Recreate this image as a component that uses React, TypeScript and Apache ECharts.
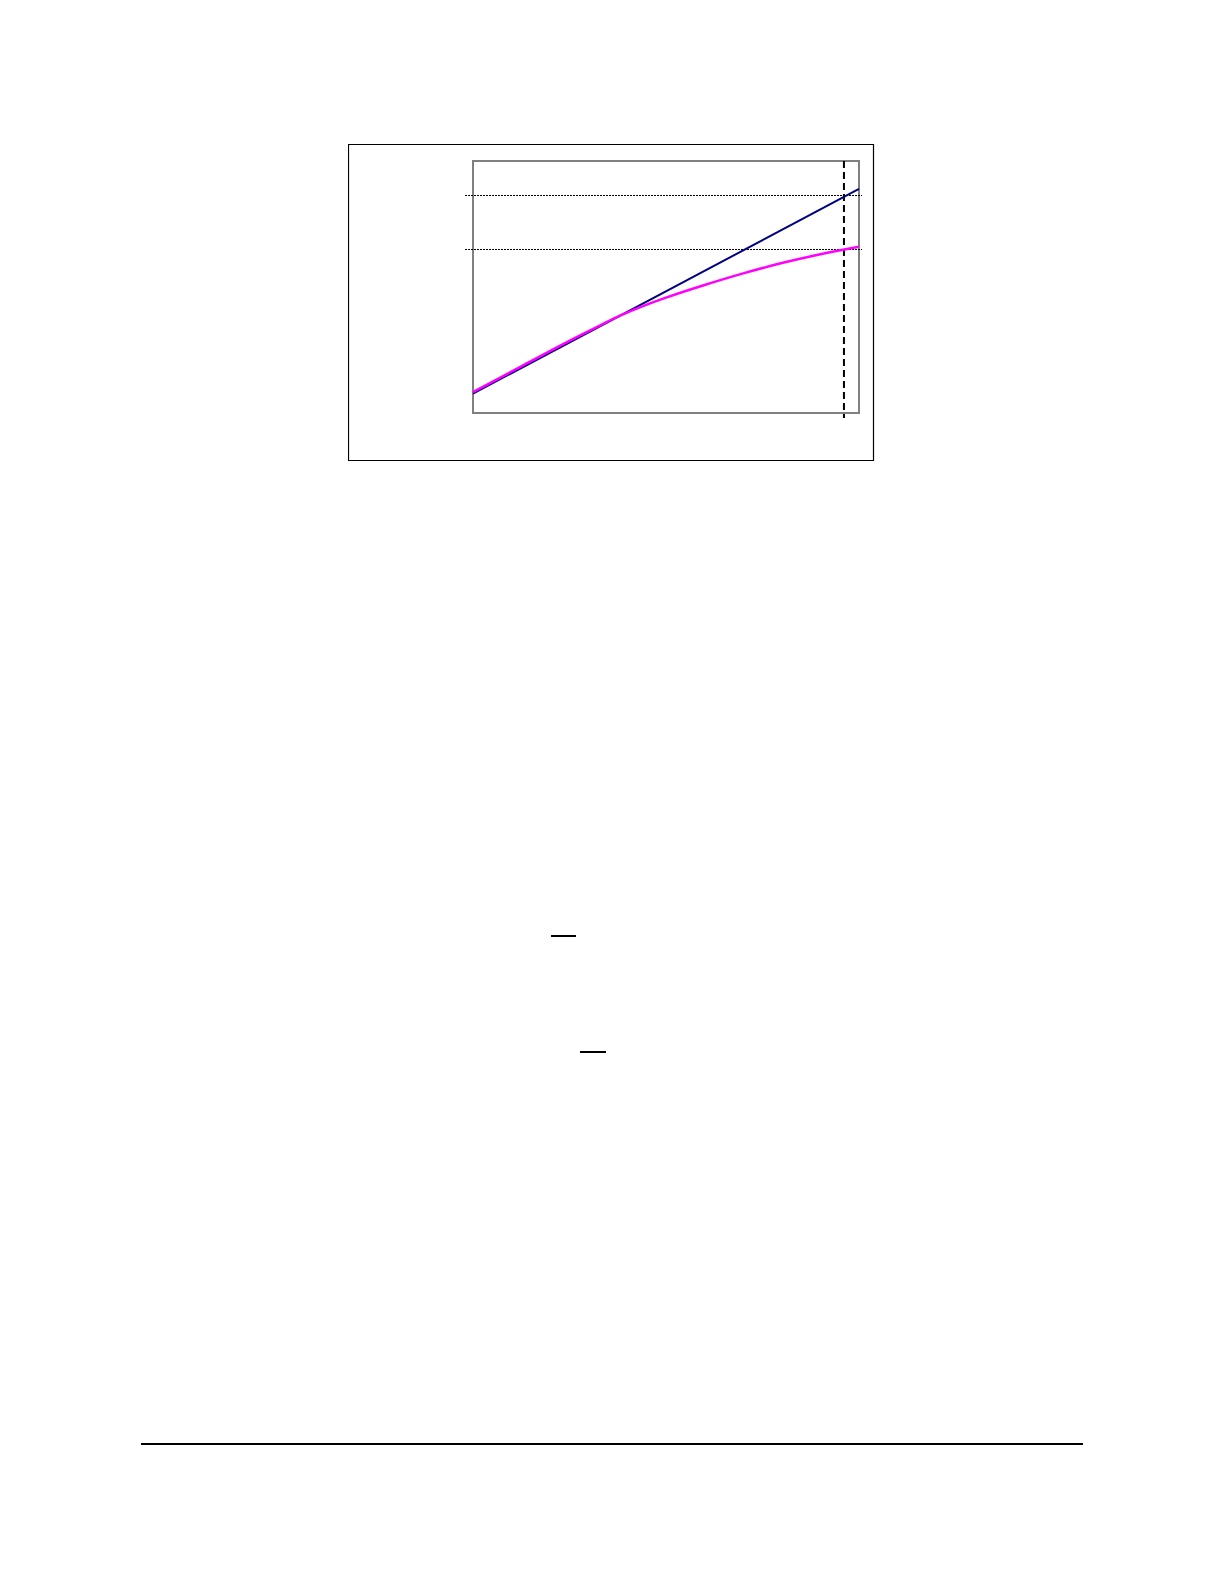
import React, { useEffect, useRef } from 'react';
import * as echarts from 'echarts';

// x positions and values (axis runs 0..10 both ways)
const linearX = [0, 10];
const linearY = [0.77, 8.89];

const curveX = [0, 1.3, 2.51, 3.3, 3.81, 4.4, 5, 6, 7, 8, 9, 10];
const curveY = [0.83, 1.89, 2.87, 3.48, 3.86, 4.24, 4.58, 5.08, 5.54, 5.95, 6.3, 6.6];

// dotted horizontal reference levels and the dashed vertical marker
const refLevels = [8.65, 6.51];
const markerX = 9.61;

const pairs = (xs: number[], ys: number[]) => xs.map((x, i) => [x, ys[i]]);

function Figure() {
  const chartRef = useRef<HTMLDivElement>(null);

  useEffect(() => {
    const chart = echarts.init(chartRef.current!, undefined, { renderer: 'svg' });

    const option = {
      animation: false,
      grid: {
        left: 125,
        top: 17,
        width: 386,
        height: 252,
        show: true,
        borderColor: '#808080',
        borderWidth: 2,
        backgroundColor: 'transparent',
      },
      xAxis: { type: 'value', min: 0, max: 10, show: false },
      yAxis: { type: 'value', min: 0, max: 10, show: false },
      series: [
        {
          type: 'line',
          data: pairs(linearX, linearY),
          symbol: 'none',
          lineStyle: { color: '#000080', width: 2 },
        },
        {
          type: 'line',
          data: pairs(curveX, curveY),
          symbol: 'none',
          smooth: 0.4,
          lineStyle: { color: '#ff00ff', width: 2.5 },
        },
      ],
    };
    chart.setOption(option);

    // reference lines reach a little past the plot box, so place them from the scales
    const [gx0, gyBottom] = chart.convertToPixel({ gridIndex: 0 }, [0, 0]) as number[];
    const [gx1, gyTop] = chart.convertToPixel({ gridIndex: 0 }, [10, 10]) as number[];
    const [mx] = chart.convertToPixel({ gridIndex: 0 }, [markerX, 0]) as number[];

    const graphic: any[] = [
      {
        type: 'rect',
        shape: { x: 0.5, y: 0.5, width: 525, height: 316 },
        style: { fill: 'none', stroke: '#000', lineWidth: 1.2 },
        silent: true,
      },
      ...refLevels.map((lv) => {
        const [, py] = chart.convertToPixel({ gridIndex: 0 }, [0, lv]) as number[];
        const y = Math.round(py) + 0.5;
        return {
          type: 'line',
          shape: { x1: gx0 - 8, y1: y, x2: gx1 + 3, y2: y },
          style: { stroke: '#000', lineWidth: 1, lineDash: [2, 1] },
          silent: true,
        };
      }),
      {
        type: 'line',
        shape: { x1: mx, y1: gyTop, x2: mx, y2: gyBottom + 5 },
        style: { stroke: '#000', lineWidth: 2, lineDash: [7, 4] },
        silent: true,
      },
    ];
    chart.setOption({ graphic });

    return () => {
      chart.dispose();
    };
  }, []);

  return (
    <div
      ref={chartRef}
      style={{ position: 'absolute', left: 348, top: 144, width: 527, height: 318 }}
    />
  );
}

export default function App() {
  return (
    <div style={{ position: 'absolute', left: 0, top: 0, width: 1224, height: 1584, background: '#fff' }}>
      <Figure />
      {/* fraction bars and footer rule of the page */}
      <div style={{ position: 'absolute', left: 551, top: 935, width: 25, height: 1.5, background: '#000' }} />
      <div style={{ position: 'absolute', left: 580, top: 1051, width: 26, height: 1.5, background: '#000' }} />
      <div style={{ position: 'absolute', left: 141, top: 1443, width: 942, height: 1.5, background: '#000' }} />
    </div>
  );
}
